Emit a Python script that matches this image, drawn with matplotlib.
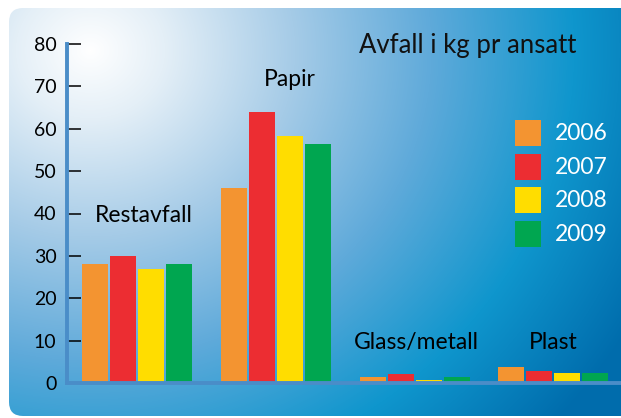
import numpy as np
import matplotlib
matplotlib.use("Agg")
import matplotlib.pyplot as plt
from matplotlib.patches import FancyBboxPatch, Rectangle

# ---- data ----
categories = ["Restavfall", "Papir", "Glass/metall", "Plast"]
years = ["2006", "2007", "2008", "2009"]
v2006 = [28, 46, 1.3, 3.8]
v2007 = [30, 64, 2.2, 2.8]
v2008 = [27, 58.3, 0.7, 2.4]
v2009 = [28, 56.5, 1.4, 2.3]
series = [v2006, v2007, v2008, v2009]
yticks = [0, 10, 20, 30, 40, 50, 60, 70, 80]
title = "Avfall i kg pr ansatt"

# ---- style / positions ----
colors = ["#F39431", "#EC2D32", "#FFDD00", "#00A650"]
label_pos = [(0.05, 39.6), (1.10, 71.6), (2.01, 9.6), (3.0, 9.6)]
W, H = 621, 418
plt.rcParams['font.family'] = ['Lato', 'DejaVu Sans']

fig = plt.figure(figsize=(W / 100, H / 100), dpi=100)
fig.patch.set_facecolor("white")

# background panel with radial gradient
bg = fig.add_axes([0, 0, 1, 1])
bg.set_xlim(0, W)
bg.set_ylim(H, 0)
bg.axis("off")
yy, xx = np.mgrid[0:H, 0:W]
d = np.sqrt((xx - 90.0) ** 2 + ((yy - 50.0) * 1.1) ** 2)
t = np.clip(d / 620.0, 0, 1)
stops_t = [0.0, 0.12, 0.33, 0.55, 0.78, 1.0]
stops_c = np.array([[255, 255, 255], [228, 239, 247], [165, 203, 231],
                    [95, 170, 218], [15, 150, 205], [0, 108, 172]]) / 255.0
img = np.zeros((H, W, 3))
for k in range(3):
    img[..., k] = np.interp(t, stops_t, stops_c[:, k])
im = bg.imshow(img, extent=(0, W, H, 0), interpolation="bilinear", zorder=0)
panel = FancyBboxPatch((9, 8), 640, 408, boxstyle="round,pad=0,rounding_size=14",
                       transform=bg.transData, facecolor="none", edgecolor="none")
bg.add_patch(panel)
im.set_clip_path(panel)

# main axes
x0, x1, yb, yt = 67, 621, 383, 44
ax = fig.add_axes([x0 / W, (H - yb) / H, (x1 - x0) / W, (yb - yt) / H])
ax.patch.set_alpha(0)
step = 138.8
ax.set_xlim((x0 - 137) / step, (x1 - 137) / step)
ax.set_ylim(0, 80)

x = np.arange(len(categories))
bw = 26 / step
off = 28 / step
for i, (vals, c) in enumerate(zip(series, colors)):
    ax.bar(x + (i - 1.5) * off, vals, width=bw, color=c, zorder=2, linewidth=0)

for s in ["top", "right"]:
    ax.spines[s].set_visible(False)
for s in ["left", "bottom"]:
    ax.spines[s].set_color("#4A8DC8")
    ax.spines[s].set_linewidth(2.8)
    ax.spines[s].set_zorder(3)
ax.set_xticks([])
ax.set_yticks(yticks)
ax.tick_params(axis="y", direction="in", length=10, width=1.1, color="black",
               labelsize=14, pad=7.5, labelcolor="black")

for cat, (lx, ly) in zip(categories, label_pos):
    ax.text(lx, ly, cat, ha="center", va="center", fontsize=16.5, color="black")

fig.text(468 / W, 1 - 46 / H, title, ha="center", va="center", fontsize=18.5, color="#111111")

# legend
for i, (yr, c) in enumerate(zip(years, colors)):
    top = 120 + i * 33.7
    fig.patches.append(Rectangle((515 / W, 1 - (top + 26) / H), 26 / W, 26 / H,
                                 transform=fig.transFigure, facecolor=c, edgecolor="none"))
    fig.text(555 / W, 1 - (top + 13.5) / H, yr, ha="left", va="center",
             fontsize=16.5, color="white")

fig.savefig("out.png", dpi=100)
